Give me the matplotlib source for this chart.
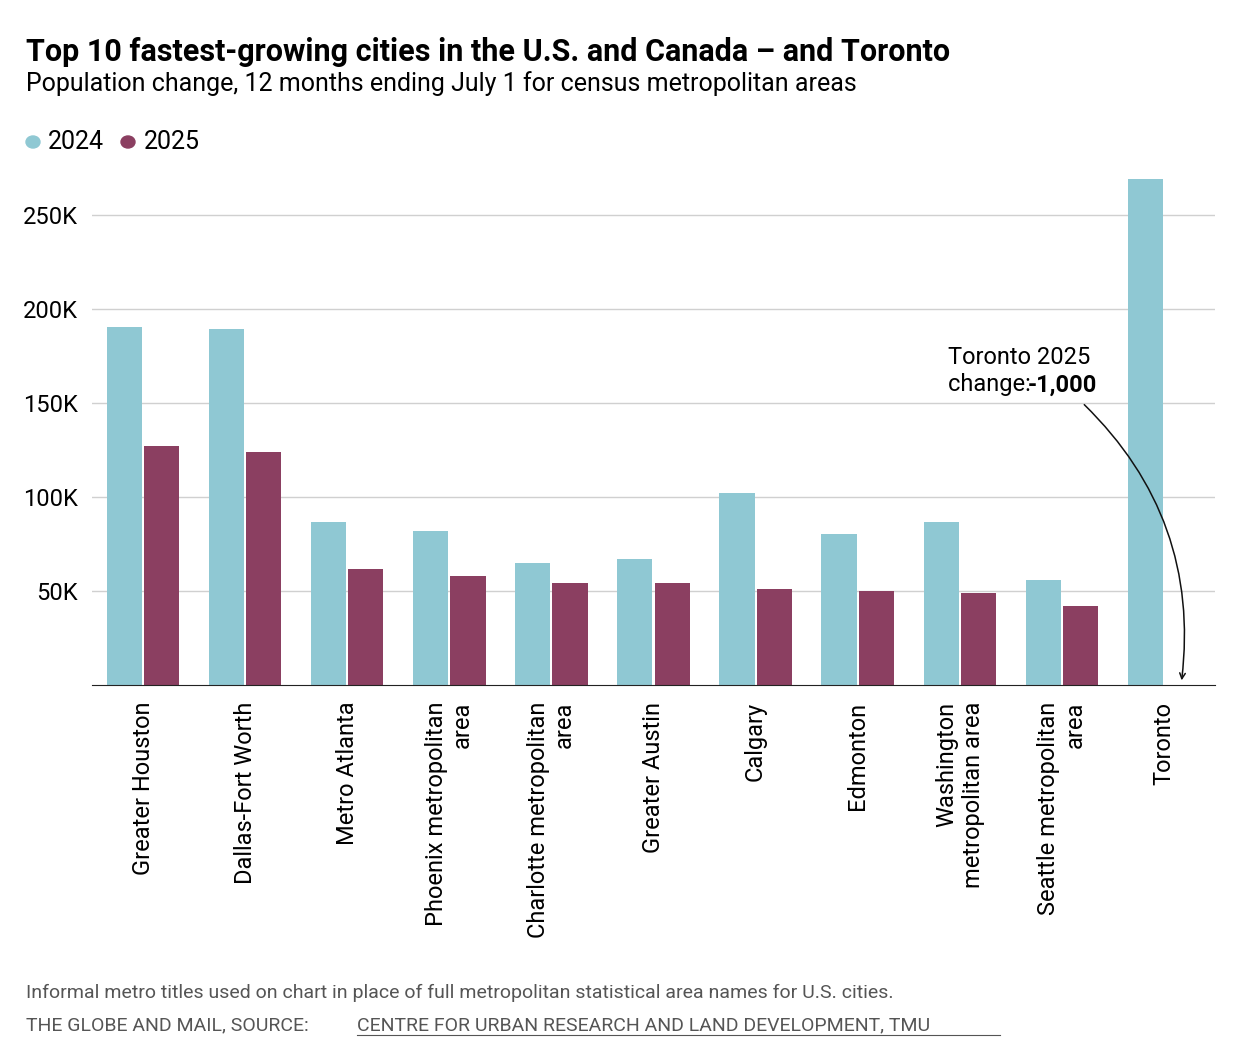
import matplotlib.pyplot as plt
from matplotlib.patches import Circle
import numpy as np

plt.rcParams['font.family'] = ['Liberation Sans Narrow', 'Roboto', 'DejaVu Sans']

cities = ["Greater Houston", "Dallas-Fort Worth", "Metro Atlanta",
          "Phoenix metropolitan\narea", "Charlotte metropolitan\narea",
          "Greater Austin", "Calgary", "Edmonton",
          "Washington\nmetropolitan area", "Seattle metropolitan\narea", "Toronto"]
vals_2024 = [190, 189, 86.5, 82, 65, 67, 102, 80, 86.5, 56, 269]
vals_2025 = [127, 124, 61.5, 58, 54, 54, 51, 50, 49, 42, -1]

c24 = '#8fc8d3'
c25 = '#8b3f61'

W, H = 1236, 1062
fig = plt.figure(figsize=(W / 100, H / 100), dpi=100)
ax = fig.add_axes([92 / W, 1 - 685 / H, (1215 - 92) / W, (685 - 175) / H])

x = np.arange(len(cities))
bw = 0.345
ax.bar(x - bw / 2 - 0.01, vals_2024, bw, color=c24, zorder=2)
ax.bar(x[:-1] + bw / 2 + 0.01, vals_2025[:-1], bw, color=c25, zorder=2)

ax.set_xlim(-0.5, 10.5)
ax.set_ylim(0, 271)
ax.set_yticks([50, 100, 150, 200, 250])
ax.set_yticklabels(['50K', '100K', '150K', '200K', '250K'], fontsize=17)
ax.yaxis.grid(True, color='#d0d0d0', lw=1, zorder=0)
ax.tick_params(axis='y', length=0, pad=10)
ax.tick_params(axis='x', length=0, pad=12)
ax.set_xticks(x)
ax.set_xticklabels(cities, rotation=90, fontsize=17, va='top', ha='center',
                   multialignment='right')
for s in ['left', 'right', 'top']:
    ax.spines[s].set_visible(False)
ax.spines['bottom'].set_color('#222222')
ax.spines['bottom'].set_zorder(3)

# annotation for Toronto
ax.annotate('', xy=(10.17, 1), xytext=(9.2, 150),
            arrowprops=dict(arrowstyle='->', color='#111111', lw=1.1,
                            connectionstyle='arc3,rad=-0.25'))
fig.text(948 / W, 1 - 357 / H, 'Toronto 2025', fontsize=17, va='center')
fig.text(948 / W, 1 - 385 / H, 'change: ', fontsize=17, va='center')
fig.text(1028 / W, 1 - 385 / H, '-1,000', fontsize=17, va='center', fontweight='bold')

fig.text(26 / W, 1 - 52 / H, 'Top 10 fastest-growing cities in the U.S. and Canada \u2013 and Toronto',
         fontsize=22, fontweight='bold', va='center')
fig.text(26 / W, 1 - 84 / H, 'Population change, 12 months ending July 1 for census metropolitan areas',
         fontsize=18, va='center')

fig.add_artist(Circle((33 / W, 1 - 142 / H), 7 / W, color=c24,
                      transform=fig.transFigure))
fig.text(48 / W, 1 - 142 / H, '2024', fontsize=18, va='center')
fig.add_artist(Circle((128 / W, 1 - 142 / H), 7 / W, color=c25,
                      transform=fig.transFigure))
fig.text(144 / W, 1 - 142 / H, '2025', fontsize=18, va='center')

fig.text(26 / W, 1 - 993 / H,
         'Informal metro titles used on chart in place of full metropolitan statistical area names for U.S. cities.',
         fontsize=14, color='#555555', va='center')
fig.text(26 / W, 1 - 1025 / H, 'THE GLOBE AND MAIL, SOURCE: ', fontsize=14, color='#555555', va='center')
fig.text(357 / W, 1 - 1025 / H, 'CENTRE FOR URBAN RESEARCH AND LAND DEVELOPMENT, TMU',
         fontsize=14, color='#555555', va='center')
fig.add_artist(plt.Line2D([357 / W, 1000 / W], [1 - 1035 / H, 1 - 1035 / H],
                          color='#555555', lw=0.8, transform=fig.transFigure))

fig.savefig('out.png', dpi=100)
